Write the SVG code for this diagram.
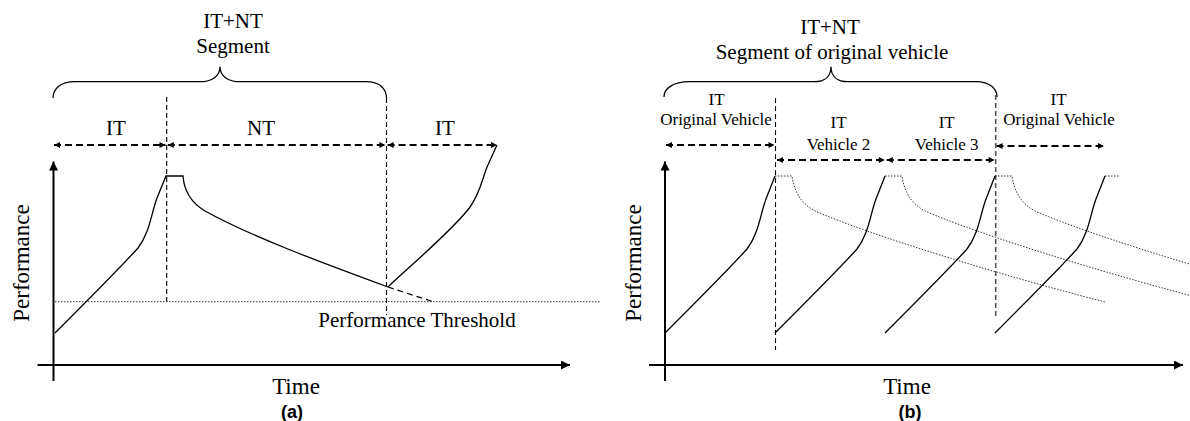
<svg xmlns="http://www.w3.org/2000/svg" width="1190" height="421" viewBox="0 0 1190 421">
<style>
.t{font-family:"Liberation Serif","Times New Roman",serif;fill:#000;text-anchor:middle}
.big{font-size:21px}
.ax{font-size:23px}
.sm{font-size:17px}
.cap{font-family:"Liberation Sans",Arial,sans-serif;font-weight:bold;font-size:18px;text-anchor:middle;fill:#000}
.axis{stroke:#000;stroke-width:2;fill:none}
.curve{stroke:#000;stroke-width:1.3;fill:none}
.brace{stroke:#000;stroke-width:1.3;fill:none}
.vdash{stroke:#000;stroke-width:1.1;stroke-dasharray:5 3;fill:none}
.vdash2{stroke:#555;stroke-width:1.6;stroke-dasharray:5 3;fill:none}
.darr{stroke:#000;stroke-width:2;stroke-dasharray:7 4;fill:none}
.dot{stroke:#333;stroke-width:1;stroke-dasharray:1.5 1.5;fill:none}
.ext{stroke:#000;stroke-width:1.2;stroke-dasharray:6 4;fill:none}
</style>
<defs>
<marker id="ah" viewBox="0 0 10 10" refX="10" refY="5" markerWidth="7" markerHeight="6" orient="auto-start-reverse" markerUnits="userSpaceOnUse"><path d="M0,0 L10,5 L0,10 z" fill="#000"/></marker>
<marker id="axh" viewBox="0 0 10 10" refX="10" refY="5" markerWidth="12" markerHeight="9" orient="auto" markerUnits="userSpaceOnUse"><path d="M0,0 L10,5 L0,10 z" fill="#000"/></marker>
</defs>

<g id="panel-a">
  <g id="a-title">
    <text class="t big" x="233" y="28">IT+NT</text>
    <text class="t big" x="233" y="53">Segment</text>
  </g>
  <path id="a-brace" class="brace" d="M53,98 C53,89 60,81.7 75,81.7 L200,81.7 C212,81.7 220,76 220,66.7 C220,76 228,81.7 240,81.7 L366,81.7 C380,81.7 386.5,89 386.5,98"/>
  <g id="a-labels">
    <text class="t big" x="116" y="135">IT</text>
    <text class="t big" x="261" y="135">NT</text>
    <text class="t big" x="445" y="135">IT</text>
  </g>
  <g id="a-connectors">
    <line class="vdash" x1="166.7" y1="97" x2="166.7" y2="302"/>
    <line class="vdash" x1="386.5" y1="98" x2="386.5" y2="315"/>
    <line class="darr" x1="54" y1="145" x2="165.5" y2="145" marker-start="url(#ah)" marker-end="url(#ah)"/>
    <line class="darr" x1="167.8" y1="145" x2="385.4" y2="145" marker-start="url(#ah)" marker-end="url(#ah)"/>
    <line class="darr" x1="387.6" y1="145" x2="497" y2="145" marker-start="url(#ah)" marker-end="url(#ah)"/>
    <line class="axis" x1="53.5" y1="381" x2="53.5" y2="161.5" marker-end="url(#axh)"/>
    <line class="axis" x1="37.5" y1="365" x2="570" y2="365" marker-end="url(#axh)"/>
    <line class="dot" x1="55" y1="301.7" x2="600" y2="301.7"/>
    <path class="curve" d="M55,333 C75,313 120,268 138,248 C150,232 151,214 157,198 L166,176 L183,176 C184,190 190,202 205,211 C250,236 320,262 388,287"/>
    <path class="ext" d="M388,287 L433,301.7"/>
    <path class="curve" d="M388,287 C410,266 455,228 470,207 C480,193 482,180 487,167 L497,145"/>
  </g>
  <text id="a-threshold" class="t big" x="417" y="327">Performance Threshold</text>
  <text id="a-ylabel" class="t ax" transform="translate(28.5,263) rotate(-90)">Performance</text>
  <text id="a-xlabel" class="t ax" x="296" y="394">Time</text>
  <text id="a-caption" class="cap" x="292" y="418">(a)</text>
</g>

<g id="panel-b">
  <g id="b-title">
    <text class="t big" x="830" y="34">IT+NT</text>
    <text class="t big" x="832" y="58.5">Segment of original vehicle</text>
  </g>
  <path id="b-brace" class="brace" d="M664,97 C664,89 672,81.7 690,81.7 L814,81.7 C825,81.7 831,76 831,66.7 C831,76 837,81.7 848,81.7 L976,81.7 C990,81.7 997,89 997,97"/>
  <g id="b-labels">
    <text class="t sm" x="716.5" y="105">IT</text>
    <text class="t sm" x="716" y="125">Original Vehicle</text>
    <text class="t sm" x="838.5" y="128">IT</text>
    <text class="t sm" x="838.5" y="150">Vehicle 2</text>
    <text class="t sm" x="946.7" y="128">IT</text>
    <text class="t sm" x="946.7" y="150">Vehicle 3</text>
    <text class="t sm" x="1058.5" y="105">IT</text>
    <text class="t sm" x="1059" y="125">Original Vehicle</text>
  </g>
  <g id="b-connectors">
    <line class="vdash" x1="775.5" y1="98" x2="775.5" y2="350"/>
    <line class="vdash2" x1="995.7" y1="95" x2="995.7" y2="318"/>
    <line class="darr" x1="666" y1="145" x2="774.5" y2="145" marker-start="url(#ah)" marker-end="url(#ah)"/>
    <line class="darr" x1="996.5" y1="146" x2="1104" y2="146" marker-start="url(#ah)" marker-end="url(#ah)"/>
    <line class="darr" x1="777" y1="160" x2="884.8" y2="160" marker-start="url(#ah)" marker-end="url(#ah)"/>
    <line class="darr" x1="886.8" y1="160" x2="994.6" y2="160" marker-start="url(#ah)" marker-end="url(#ah)"/>
    <line class="axis" x1="665" y1="381" x2="665" y2="161.5" marker-end="url(#axh)"/>
    <line class="axis" x1="649" y1="365" x2="1183" y2="365" marker-end="url(#axh)"/>
    <path class="dot" d="M775,176 L792,176 C794,190 800,203 815,211 C870,235 1000,275 1105,302"/>
    <path class="dot" d="M885,176 L902,176 C904,190 910,203 925,211 C980,235 1110,275 1215,302"/>
    <path class="dot" d="M995,176 L1012,176 C1014,190 1020,203 1035,211 C1090,235 1220,275 1325,302"/>
    <path class="dot" d="M1105,176 L1120,176"/>
    <path class="curve" d="M665,333 c20,-20 64,-64 82,-84 c12,-16 13,-34 19,-50 l9,-23"/>
    <path class="curve" d="M775,333 c20,-20 64,-64 82,-84 c12,-16 13,-34 19,-50 l9,-23"/>
    <path class="curve" d="M885,333 c20,-20 64,-64 82,-84 c12,-16 13,-34 19,-50 l9,-23"/>
    <path class="curve" d="M995,333 c20,-20 64,-64 82,-84 c12,-16 13,-34 19,-50 l9,-23"/>
  </g>
  <text id="b-ylabel" class="t ax" transform="translate(640.5,263) rotate(-90)">Performance</text>
  <text id="b-xlabel" class="t ax" x="907" y="394">Time</text>
  <text id="b-caption" class="cap" x="910" y="418">(b)</text>
</g>
</svg>
